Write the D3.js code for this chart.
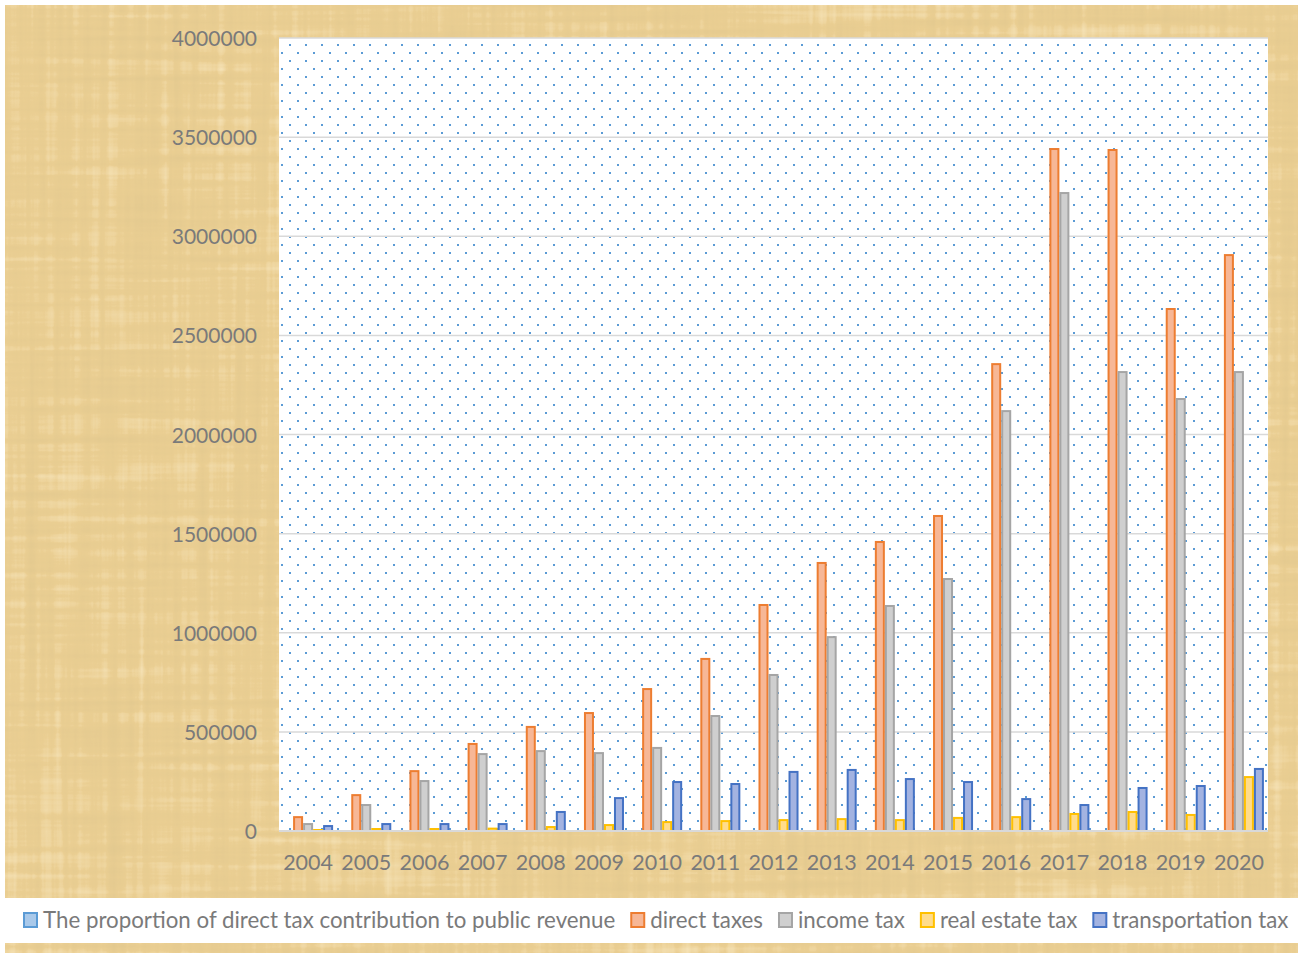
<!DOCTYPE html>
<html>
<head>
<meta charset="utf-8">
<script src="https://cdn.jsdelivr.net/npm/d3@7/dist/d3.min.js"></script>
<style>
  body { margin: 0; background: #fff; }
  svg { display: block; }
  text { font-family: Lato, "Open Sans", sans-serif; fill: #7a7a7a; }
</style>
</head>
<body>
<div id="chart"></div>
<script>
// Width and height
var w = 1300;
var h = 956;

// data
var years = ["2004", "2005", "2006", "2007", "2008", "2009", "2010", "2011", "2012",
             "2013", "2014", "2015", "2016", "2017", "2018", "2019", "2020"];
var seriesNames = ["The proportion of direct tax contribution to public revenue",
                   "direct taxes", "income tax", "real estate tax", "transportation tax"];
var proportion = [21, 23, 24, 26, 27, 26, 25, 26, 27, 28, 27, 27, 29, 31, 30, 28, 29];
var directTaxes = [70000, 181000, 302000, 439000, 525000, 595000, 716000, 868000, 1140000,
                   1352000, 1458000, 1589000, 2355000, 3440000, 3435000, 2633000, 2905000];
var incomeTax = [35000, 131000, 252000, 388000, 403000, 393000, 419000, 580000, 787000,
                 978000, 1135000, 1271000, 2118000, 3218000, 2315000, 2179000, 2315000];
var realEstateTax = [5000, 10000, 10000, 12000, 20000, 30000, 45000, 50000, 55000,
                     60000, 55000, 66000, 70000, 86000, 96000, 81000, 272000];
var transportTax = [25000, 35000, 35000, 35000, 96000, 166000, 247000, 237000, 298000,
                    308000, 262000, 247000, 161000, 131000, 217000, 227000, 313000];
var yTicks = [0, 500000, 1000000, 1500000, 2000000, 2500000, 3000000, 3500000, 4000000];

var allSeries = [proportion, directTaxes, incomeTax, realEstateTax, transportTax];
var fills = ["#a9c9ea", "#f7b796", "#cfcfcf", "#ffdc8c", "#a3b3e1"];
var strokes = ["#5b9bd5", "#ed7d31", "#a5a5a5", "#ffc000", "#4472c4"];

var plot = {left: 279, right: 1268, top: 38, bottom: 831};

var svg = d3.select("#chart")
            .append("svg")
            .attr("width", w)
            .attr("height", h);

var defs = svg.append("defs");

// papyrus-like texture: crossing fibre streaks
var f = defs.append("filter").attr("id", "papyrus")
    .attr("x", 0).attr("y", 0).attr("width", "100%").attr("height", "100%");
f.append("feTurbulence").attr("type", "fractalNoise")
    .attr("baseFrequency", "0.004 0.11").attr("numOctaves", 3).attr("seed", 4).attr("result", "t1");
f.append("feTurbulence").attr("type", "fractalNoise")
    .attr("baseFrequency", "0.11 0.003").attr("numOctaves", 3).attr("seed", 9).attr("result", "t2");
f.append("feComposite").attr("in", "t1").attr("in2", "t2")
    .attr("operator", "arithmetic").attr("k1", 0).attr("k2", 0.5).attr("k3", 0.5).attr("k4", 0)
    .attr("result", "t");
f.append("feColorMatrix").attr("in", "t").attr("type", "matrix")
    .attr("values", "0 0 0 0 0.74  0 0 0 0 0.57  0 0 0 0 0.27  -1.8 0 0 0 1.05")
    .attr("result", "dark");
f.append("feColorMatrix").attr("in", "t").attr("type", "matrix")
    .attr("values", "0 0 0 0 1.0  0 0 0 0 0.9  0 0 0 0 0.64  1.5 0 0 0 -0.78")
    .attr("result", "light");
f.append("feComposite").attr("in", "dark").attr("in2", "SourceGraphic").attr("operator", "in")
    .attr("result", "darkIn");
f.append("feComposite").attr("in", "light").attr("in2", "SourceGraphic").attr("operator", "in")
    .attr("result", "lightIn");
f.append("feMerge").selectAll("feMergeNode")
    .data(["SourceGraphic", "darkIn", "lightIn"])
    .enter().append("feMergeNode").attr("in", function(d) { return d; });

// dotted pattern of plot area
var pat = defs.append("pattern").attr("id", "dots")
    .attr("patternUnits", "userSpaceOnUse")
    .attr("x", 289).attr("y", 44).attr("width", 16).attr("height", 16);
pat.append("rect").attr("width", 16).attr("height", 16).attr("fill", "#fff");
pat.append("rect").attr("x", 0).attr("y", 0).attr("width", 2).attr("height", 2).attr("fill", "#5b9bd5");
pat.append("rect").attr("x", 8).attr("y", 8).attr("width", 2).attr("height", 2).attr("fill", "#5b9bd5");

// background
svg.append("rect")
   .attr("x", 5).attr("y", 5)
   .attr("width", 1293).attr("height", 948)
   .attr("fill", "#ebcf93")
   .attr("filter", "url(#papyrus)");

// plot area
svg.append("rect")
   .attr("x", plot.left).attr("y", plot.top)
   .attr("width", plot.right - plot.left).attr("height", plot.bottom - plot.top)
   .attr("fill", "url(#dots)");

// scales
var x0 = d3.scaleBand()
           .domain(years)
           .range([plot.left, plot.right])
           .paddingInner(0.14)
           .paddingOuter(0.07);

var x1 = d3.scaleBand()
           .domain(d3.range(allSeries.length))
           .range([0, x0.bandwidth()]);

var yScale = d3.scaleLinear()
               .domain([0, 4000000])
               .range([plot.bottom, plot.top]);

// gridlines
svg.append("g")
   .selectAll("line")
   .data(yTicks)
   .enter()
   .append("line")
   .attr("x1", plot.left).attr("x2", plot.right)
   .attr("y1", function(d) { return yScale(d); })
   .attr("y2", function(d) { return yScale(d); })
   .attr("stroke", "#d9d9d9")
   .attr("stroke-width", 1.5);

// bars
var groups = svg.append("g")
   .selectAll("g")
   .data(years)
   .enter()
   .append("g")
   .attr("transform", function(d) { return "translate(" + x0(d) + ",0)"; });

groups.selectAll("rect")
   .data(function(d, i) {
       return allSeries.map(function(s, k) { return {k: k, v: s[i]}; });
   })
   .enter()
   .append("rect")
   .attr("x", function(d) { return x1(d.k) + 1; })
   .attr("y", function(d) { return yScale(d.v); })
   .attr("width", x1.bandwidth() - 2)
   .attr("height", function(d) { return Math.max(0, plot.bottom - yScale(d.v)); })
   .attr("fill", function(d) { return fills[d.k]; })
   .attr("stroke", function(d) { return strokes[d.k]; })
   .attr("stroke-opacity", function(d) { return d.k === 0 ? 0.25 : 1; })
   .attr("stroke-width", 2);

// Y axis
var yAxis = d3.axisLeft(yScale)
              .tickValues(yTicks)
              .tickSize(0)
              .tickPadding(22)
              .tickFormat(d3.format("d"));

var gy = svg.append("g")
   .attr("class", "y axis")
   .attr("transform", "translate(" + plot.left + ",0)")
   .call(yAxis);
gy.select(".domain").remove();
gy.selectAll("text").attr("font-size", "21px").attr("fill", "#7a7a7a")
   .attr("dy", "0.36em");

// X axis
var xAxis = d3.axisBottom(x0)
              .tickSize(0)
              .tickPadding(24);

var gx = svg.append("g")
   .attr("class", "x axis")
   .attr("transform", "translate(0," + plot.bottom + ")")
   .call(xAxis);
gx.select(".domain").attr("stroke", "#d9d9d9").attr("stroke-width", 2)
   .attr("d", "M" + plot.left + ",0H" + plot.right);
gx.selectAll("text").attr("font-size", "21.5px").attr("fill", "#7a7a7a");

// legend
svg.append("rect")
   .attr("x", 5).attr("y", 898)
   .attr("width", 1295).attr("height", 45)
   .attr("fill", "#fff");

var legend = svg.append("g").attr("class", "legend");
var lx = 23;
seriesNames.forEach(function(name, k) {
    var item = legend.append("g");
    item.append("rect")
        .attr("x", lx + 1).attr("y", 913)
        .attr("width", 13).attr("height", 14)
        .attr("fill", fills[k])
        .attr("stroke", strokes[k])
        .attr("stroke-width", 2);
    var t = item.append("text")
        .attr("x", lx + 20).attr("y", 928)
        .attr("font-size", "22.3px")
        .attr("fill", "#7a7a7a")
        .text(name);
    lx = lx + 20 + t.node().getComputedTextLength() + 15;
});
</script>
</body>
</html>
